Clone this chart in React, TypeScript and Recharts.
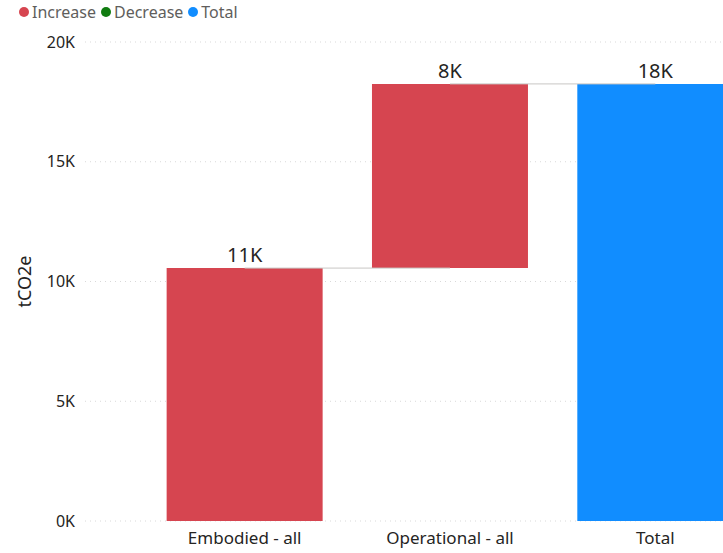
import React from 'react';
import { BarChart, Bar, XAxis, YAxis, CartesianGrid, LabelList, ReferenceLine, Cell } from 'recharts';

const categories = ['Embodied - all', 'Operational - all', 'Total'];
const changes = [10560, 7690, 18250];
const kinds = ['increase', 'increase', 'total'];
const yTicks = [0, 5000, 10000, 15000, 20000];
const legendItems = [
  { name: 'Increase', color: '#D64550' },
  { name: 'Decrease', color: '#107C10' },
  { name: 'Total', color: '#118DFF' },
];

const colorOf: Record<string, string> = { increase: '#D64550', decrease: '#107C10', total: '#118DFF' };

const data = (() => {
  let running = 0;
  return categories.map((c, i) => {
    let base = running;
    if (kinds[i] === 'total') base = 0;
    const row = { name: c, base, value: changes[i], kind: kinds[i], end: base + changes[i] };
    running = kinds[i] === 'total' ? changes[i] : running + changes[i];
    return row;
  });
})();

const FONT = '"Noto Sans", "Open Sans", sans-serif';
const fmtK = (v: number) => `${Math.round(v / 1000)}K`;

export default function App() {
  return (
    <div style={{ position: 'absolute', left: 0, top: 0, width: 723, height: 553, overflow: 'hidden', background: '#fff', fontFamily: FONT }}>
      <div style={{ position: 'absolute', left: 19, top: 1, display: 'flex', alignItems: 'center', fontSize: 16, color: '#605E5C', whiteSpace: 'nowrap' }}>
        {legendItems.map((it) => (
          <div key={it.name} style={{ display: 'flex', alignItems: 'center', marginRight: 5 }}>
            <span style={{ width: 10, height: 10, borderRadius: 5, background: it.color, display: 'inline-block', marginRight: 3 }} />
            <span>{it.name}</span>
          </div>
        ))}
      </div>
      <BarChart
        width={758}
        height={553}
        data={data}
        margin={{ top: 42, right: 0, left: 0, bottom: 0 }}
        barCategoryGap="12%"
        style={{ position: 'absolute', left: 0, top: 0 }}
      >
        <CartesianGrid vertical={false} stroke="#D9D9D9" strokeDasharray="1 4" />
        <XAxis
          dataKey="name"
          height={32}
          axisLine={false}
          tickLine={false}
          padding={{ left: 57, right: 0 }}
          tick={{ fill: '#252423', fontSize: 17, fontFamily: FONT }}
          tickMargin={5}
        />
        <YAxis
          width={85}
          domain={[0, 20000]}
          ticks={yTicks}
          axisLine={false}
          tickLine={false}
          tickFormatter={fmtK}
          tick={{ fill: '#252423', fontSize: 16, fontFamily: FONT }}
          tickMargin={4}
          label={{ value: 'tCO2e', angle: -90, position: 'insideLeft', offset: 25, style: { textAnchor: 'middle', fill: '#252423', fontSize: 18, fontFamily: FONT } }}
        />
        <ReferenceLine
          segment={[{ x: categories[0], y: data[0].end }, { x: categories[1], y: data[0].end }]}
          stroke="#C8C6C4"
          strokeWidth={1}
        />
        <ReferenceLine
          segment={[{ x: categories[1], y: data[1].end }, { x: categories[2], y: data[1].end }]}
          stroke="#C8C6C4"
          strokeWidth={1}
        />
        <Bar dataKey="base" stackId="w" fill="transparent" isAnimationActive={false} />
        <Bar dataKey="value" stackId="w" isAnimationActive={false}>
          {data.map((d) => (
            <Cell key={d.name} fill={colorOf[d.kind]} />
          ))}
          <LabelList dataKey="value" position="top" offset={6} formatter={(v: any) => fmtK(Number(v))} style={{ fill: '#252423', fontSize: 20, fontFamily: FONT }} />
        </Bar>
      </BarChart>
    </div>
  );
}
